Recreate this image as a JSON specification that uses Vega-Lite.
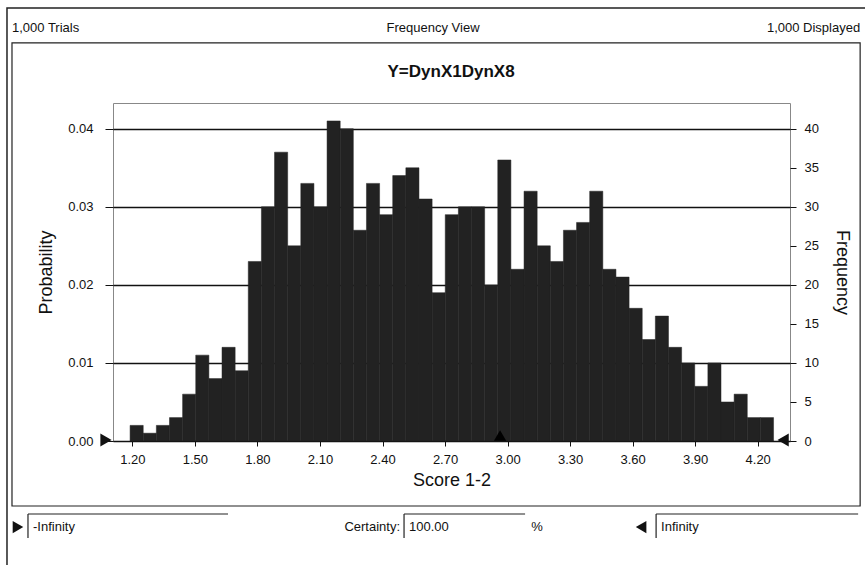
{
  "$schema": "https://vega.github.io/schema/vega-lite/v6.json",
  "width": 677,
  "height": 338,
  "autosize": {"type": "none"},
  "padding": {"left": 113, "top": 103, "right": 75, "bottom": 124},
  "background": "white",
  "config": {"font": "Liberation Sans", "view": {"stroke": "#888888", "strokeWidth": 1}},
  "data": {"values": [{}]},
  "datasets": {
    "bins": [
      {"lo": 1.189, "hi": 1.252, "count": 2},
      {"lo": 1.252, "hi": 1.315, "count": 1},
      {"lo": 1.315, "hi": 1.378, "count": 2},
      {"lo": 1.378, "hi": 1.441, "count": 3},
      {"lo": 1.441, "hi": 1.504, "count": 6},
      {"lo": 1.504, "hi": 1.567, "count": 11},
      {"lo": 1.567, "hi": 1.630, "count": 8},
      {"lo": 1.630, "hi": 1.693, "count": 12},
      {"lo": 1.693, "hi": 1.756, "count": 9},
      {"lo": 1.756, "hi": 1.819, "count": 23},
      {"lo": 1.819, "hi": 1.882, "count": 30},
      {"lo": 1.882, "hi": 1.945, "count": 37},
      {"lo": 1.945, "hi": 2.008, "count": 25},
      {"lo": 2.008, "hi": 2.071, "count": 33},
      {"lo": 2.071, "hi": 2.134, "count": 30},
      {"lo": 2.134, "hi": 2.197, "count": 41},
      {"lo": 2.197, "hi": 2.260, "count": 40},
      {"lo": 2.260, "hi": 2.323, "count": 27},
      {"lo": 2.323, "hi": 2.386, "count": 33},
      {"lo": 2.386, "hi": 2.449, "count": 29},
      {"lo": 2.449, "hi": 2.512, "count": 34},
      {"lo": 2.512, "hi": 2.575, "count": 35},
      {"lo": 2.575, "hi": 2.638, "count": 31},
      {"lo": 2.638, "hi": 2.701, "count": 19},
      {"lo": 2.701, "hi": 2.764, "count": 29},
      {"lo": 2.764, "hi": 2.827, "count": 30},
      {"lo": 2.827, "hi": 2.890, "count": 30},
      {"lo": 2.890, "hi": 2.953, "count": 20},
      {"lo": 2.953, "hi": 3.016, "count": 36},
      {"lo": 3.016, "hi": 3.079, "count": 22},
      {"lo": 3.079, "hi": 3.142, "count": 32},
      {"lo": 3.142, "hi": 3.205, "count": 25},
      {"lo": 3.205, "hi": 3.268, "count": 23},
      {"lo": 3.268, "hi": 3.331, "count": 27},
      {"lo": 3.331, "hi": 3.394, "count": 28},
      {"lo": 3.394, "hi": 3.457, "count": 32},
      {"lo": 3.457, "hi": 3.520, "count": 22},
      {"lo": 3.520, "hi": 3.583, "count": 21},
      {"lo": 3.583, "hi": 3.646, "count": 17},
      {"lo": 3.646, "hi": 3.709, "count": 13},
      {"lo": 3.709, "hi": 3.772, "count": 16},
      {"lo": 3.772, "hi": 3.835, "count": 12},
      {"lo": 3.835, "hi": 3.898, "count": 10},
      {"lo": 3.898, "hi": 3.961, "count": 7},
      {"lo": 3.961, "hi": 4.024, "count": 10},
      {"lo": 4.024, "hi": 4.087, "count": 5},
      {"lo": 4.087, "hi": 4.150, "count": 6},
      {"lo": 4.150, "hi": 4.213, "count": 3},
      {"lo": 4.213, "hi": 4.276, "count": 3}
    ]
  },
  "layer": [
    {
      "layer": [
        {
          "mark": {"type": "text", "text": "1,000 Trials", "align": "left", "baseline": "middle", "fontSize": 13, "color": "#111111"},
          "encoding": {
            "x": {"datum": 0.6224, "type": "quantitative", "scale": {"domain": [1.107, 4.355], "nice": false, "zero": false},
              "axis": {"values": [1.2, 1.5, 1.8, 2.1, 2.4, 2.7, 3.0, 3.3, 3.6, 3.9, 4.2], "format": ".2f", "labelFontSize": 13, "labelColor": "#111111", "tickColor": "#111111", "tickSize": 5, "domainColor": "#111111", "labelPadding": 7, "grid": false, "title": "Score 1-2", "titleFontSize": 18, "titleFontWeight": "normal", "titleColor": "#111111", "titlePadding": 5}},
            "y": {"datum": 0.05291, "type": "quantitative", "scale": {"domain": [0, 0.0433], "nice": false},
              "axis": {"orient": "left", "values": [0, 0.01, 0.02, 0.03, 0.04], "format": ".2f", "grid": true, "gridColor": "#111111", "gridWidth": 1.6, "tickSize": 8, "tickColor": "#111111", "labelPadding": 12, "labelFontSize": 13, "labelColor": "#111111", "domain": false, "title": "Probability", "titleFontSize": 18, "titleFontWeight": "normal", "titleColor": "#111111", "titlePadding": 12}}
          }
        },
        {
          "mark": {"type": "text", "text": "Frequency View", "align": "center", "baseline": "middle", "fontSize": 13, "color": "#111111"},
          "encoding": {"x": {"datum": 2.6425, "type": "quantitative"}, "y": {"datum": 0.05291, "type": "quantitative"}}
        },
        {
          "mark": {"type": "text", "text": "1,000 Displayed", "align": "right", "baseline": "middle", "fontSize": 13, "color": "#111111"},
          "encoding": {"x": {"datum": 4.6915, "type": "quantitative"}, "y": {"datum": 0.05291, "type": "quantitative"}}
        },
        {
          "mark": {"type": "text", "text": "Y=DynX1DynX8", "align": "center", "baseline": "middle", "fontSize": 17, "fontWeight": "bold", "color": "#111111"},
          "encoding": {"x": {"datum": 2.7289, "type": "quantitative"}, "y": {"datum": 0.04727, "type": "quantitative"}}
        },
        {
          "mark": {"type": "rect", "fill": null, "stroke": "#222222", "strokeWidth": 1.2},
          "encoding": {"x": {"datum": 0.6224, "type": "quantitative"}, "x2": {"datum": 4.6915}, "y": {"datum": 0.05099, "type": "quantitative"}, "y2": {"datum": -0.00833}}
        },
        {
          "mark": {"type": "rect", "fill": null, "stroke": "#222222", "strokeWidth": 1.5},
          "encoding": {"x": {"datum": 0.5984, "type": "quantitative"}, "x2": {"datum": 4.749}, "y": {"datum": 0.05547, "type": "quantitative"}, "y2": {"datum": -0.01717}}
        },
        {
          "mark": {"type": "point", "shape": "triangle-right", "filled": true, "color": "#111111", "size": 170, "opacity": 1},
          "encoding": {"x": {"datum": 1.0734, "type": "quantitative"}, "y": {"datum": 0.00013, "type": "quantitative"}}
        },
        {
          "mark": {"type": "point", "shape": "triangle-left", "filled": true, "color": "#111111", "size": 170, "opacity": 1},
          "encoding": {"x": {"datum": 4.322, "type": "quantitative"}, "y": {"datum": 0.00013, "type": "quantitative"}}
        },
        {
          "mark": {"type": "point", "shape": "triangle-right", "filled": true, "color": "#111111", "size": 150, "opacity": 1},
          "encoding": {"x": {"datum": 0.6511, "type": "quantitative"}, "y": {"datum": -0.01102, "type": "quantitative"}}
        },
        {
          "mark": {"type": "point", "shape": "triangle-left", "filled": true, "color": "#111111", "size": 150, "opacity": 1},
          "encoding": {"x": {"datum": 3.6406, "type": "quantitative"}, "y": {"datum": -0.01102, "type": "quantitative"}}
        },
        {
          "mark": {"type": "text", "text": "-Infinity", "align": "left", "baseline": "middle", "fontSize": 13, "color": "#111111"},
          "encoding": {"x": {"datum": 0.7231, "type": "quantitative"}, "y": {"datum": -0.01102, "type": "quantitative"}}
        },
        {
          "mark": {"type": "text", "text": "Certainty:", "align": "right", "baseline": "middle", "fontSize": 13, "color": "#111111"},
          "encoding": {"x": {"datum": 2.4842, "type": "quantitative"}, "y": {"datum": -0.01102, "type": "quantitative"}}
        },
        {
          "mark": {"type": "text", "text": "100.00", "align": "left", "baseline": "middle", "fontSize": 13, "color": "#111111"},
          "encoding": {"x": {"datum": 2.5273, "type": "quantitative"}, "y": {"datum": -0.01102, "type": "quantitative"}}
        },
        {
          "mark": {"type": "text", "text": "%", "align": "center", "baseline": "middle", "fontSize": 13, "color": "#111111"},
          "encoding": {"x": {"datum": 3.1415, "type": "quantitative"}, "y": {"datum": -0.01102, "type": "quantitative"}}
        },
        {
          "mark": {"type": "text", "text": "Infinity", "align": "left", "baseline": "middle", "fontSize": 13, "color": "#111111"},
          "encoding": {"x": {"datum": 3.7366, "type": "quantitative"}, "y": {"datum": -0.01102, "type": "quantitative"}}
        },
        {
          "mark": {"type": "rule", "color": "#222222", "strokeWidth": 1.2},
          "encoding": {"x": {"datum": 0.6991, "type": "quantitative"}, "x2": {"datum": 1.6588}, "y": {"datum": -0.00935, "type": "quantitative"}}
        },
        {
          "mark": {"type": "rule", "color": "#222222", "strokeWidth": 1.2},
          "encoding": {"x": {"datum": 0.6991, "type": "quantitative"}, "y": {"datum": -0.00935, "type": "quantitative"}, "y2": {"datum": -0.01243}}
        },
        {
          "mark": {"type": "rule", "color": "#222222", "strokeWidth": 1.2},
          "encoding": {"x": {"datum": 2.5033, "type": "quantitative"}, "x2": {"datum": 3.084}, "y": {"datum": -0.00935, "type": "quantitative"}}
        },
        {
          "mark": {"type": "rule", "color": "#222222", "strokeWidth": 1.2},
          "encoding": {"x": {"datum": 2.5033, "type": "quantitative"}, "y": {"datum": -0.00935, "type": "quantitative"}, "y2": {"datum": -0.01243}}
        },
        {
          "mark": {"type": "rule", "color": "#222222", "strokeWidth": 1.2},
          "encoding": {"x": {"datum": 3.7126, "type": "quantitative"}, "x2": {"datum": 4.6818}, "y": {"datum": -0.00935, "type": "quantitative"}}
        },
        {
          "mark": {"type": "rule", "color": "#222222", "strokeWidth": 1.2},
          "encoding": {"x": {"datum": 3.7126, "type": "quantitative"}, "y": {"datum": -0.00935, "type": "quantitative"}, "y2": {"datum": -0.01243}}
        }
      ]
    },
    {
      "data": {"name": "bins"},
      "mark": {"type": "bar", "color": "#222222", "stroke": "#222222", "strokeWidth": 0.5},
      "encoding": {
        "x": {"field": "lo", "type": "quantitative"},
        "x2": {"field": "hi"},
        "y": {"field": "count", "type": "quantitative", "scale": {"domain": [0, 43.3], "nice": false},
          "axis": {"orient": "right", "values": [0, 5, 10, 15, 20, 25, 30, 35, 40], "format": "d", "tickSize": 6, "tickColor": "#111111", "labelPadding": 8, "labelFontSize": 13, "labelColor": "#111111", "domain": false, "grid": false, "title": "Frequency", "titleFontSize": 18, "titleFontWeight": "normal", "titleColor": "#111111", "titlePadding": 14}},
        "y2": {"datum": 0}
      }
    },
    {
      "mark": {"type": "point", "shape": "triangle-up", "filled": true, "color": "#000000", "size": 150, "opacity": 1},
      "encoding": {"x": {"datum": 2.964, "type": "quantitative"}, "y": {"datum": 0.7, "type": "quantitative", "scale": {"domain": [0, 43.3], "nice": false}, "axis": null}}
    }
  ],
  "resolve": {"scale": {"y": "independent"}, "axis": {"y": "independent"}}
}
